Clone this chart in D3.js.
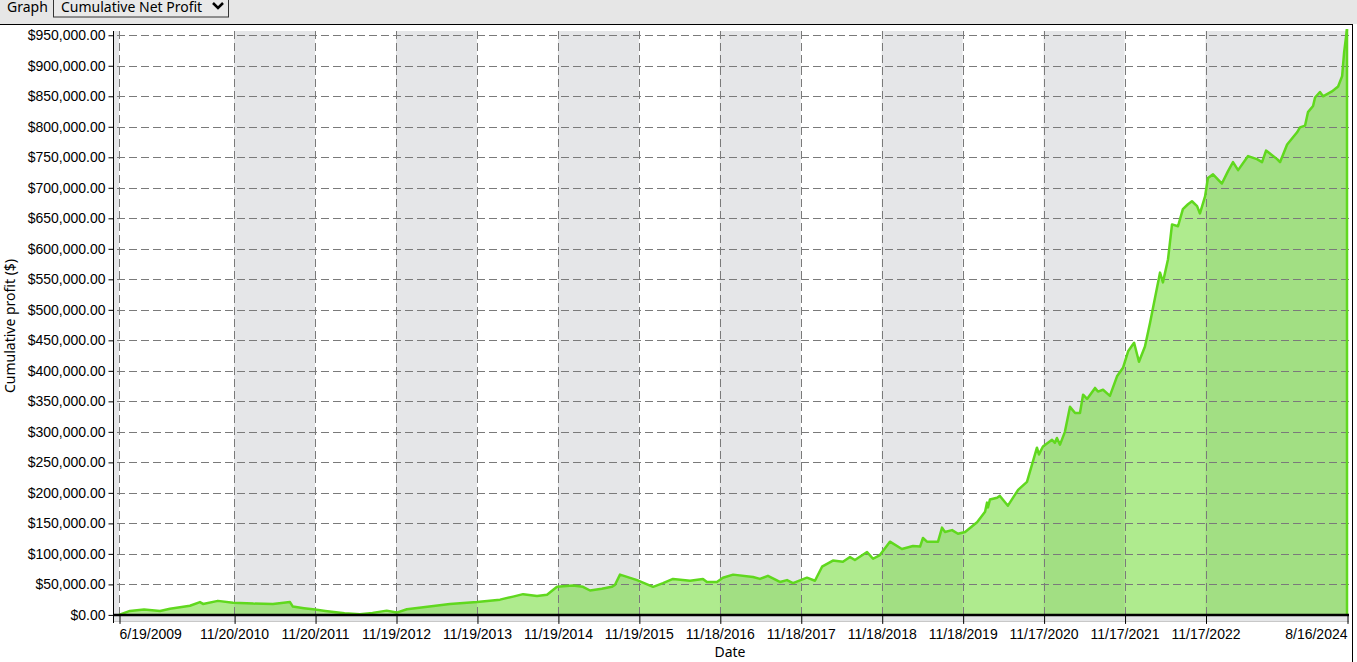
<!DOCTYPE html>
<html>
<head>
<meta charset="utf-8">
<script src="https://cdn.jsdelivr.net/npm/d3@7"></script>
<style>
  body { margin: 0; background: #fff; }
  svg { display: block; font-family: "Segoe UI", "Noto Sans", sans-serif; }
</style>
</head>
<body>
<div id="chart"></div>
<script>
// cumulative net profit
var dates = ["2009-06-19","2009-08-07","2009-10-10","2009-12-21","2010-02-04","2010-05-05","2010-06-19","2010-07-03","2010-09-08","2010-11-15",
  "2011-02-15","2011-05-14","2011-07-30","2011-08-12","2011-10-01","2011-11-20","2012-01-05","2012-04-01","2012-06-09","2012-08-05",
  "2012-10-08","2012-11-22","2013-01-07","2013-07-20","2013-11-19","2014-03-03","2014-05-01","2014-06-15","2014-08-17","2014-10-01",
  "2014-11-15","2015-01-26","2015-03-12","2015-04-13","2015-06-05","2015-07-20","2015-08-03","2015-08-26","2015-11-11","2016-01-22",
  "2016-03-07","2016-04-21","2016-07-07","2016-09-03","2016-09-21","2016-11-05","2016-12-02","2017-01-17","2017-04-17","2017-05-18",
  "2017-06-23","2017-08-16","2017-09-17","2017-10-14","2017-12-16","2018-01-21","2018-02-22","2018-04-12","2018-05-27","2018-06-28",
  "2018-07-20","2018-09-13","2018-10-10","2018-11-10","2018-12-25","2019-02-17","2019-04-08","2019-05-10","2019-05-23","2019-06-10",
  "2019-07-30","2019-08-17","2019-08-30","2019-10-01","2019-10-28","2019-11-29","2020-01-22","2020-02-27","2020-03-07","2020-03-11",
  "2020-03-20","2020-04-21","2020-05-04","2020-06-09","2020-07-25","2020-09-03","2020-10-18","2020-10-27","2020-11-14","2020-12-25",
  "2021-01-07","2021-01-16","2021-01-30","2021-02-21","2021-03-16","2021-04-08","2021-04-30","2021-05-14","2021-06-01","2021-07-07",
  "2021-07-20","2021-08-12","2021-09-12","2021-10-14","2021-11-10","2021-12-03","2021-12-30","2022-01-21","2022-02-17","2022-03-12",
  "2022-04-26","2022-05-09","2022-06-01","2022-06-19","2022-07-16","2022-08-07","2022-08-30","2022-09-17","2022-10-10","2022-10-23",
  "2022-11-15","2022-11-28","2022-12-21","2023-01-30","2023-02-26","2023-03-21","2023-04-13","2023-05-28","2023-07-07","2023-07-30",
  "2023-08-17","2023-10-06","2023-10-19","2023-11-20","2024-01-04","2024-01-17","2024-02-09","2024-02-22","2024-03-16","2024-03-25",
  "2024-04-16","2024-04-30","2024-06-09","2024-07-07","2024-07-25","2024-08-03","2024-08-16"];
var profit = [0,6500,8700,6500,10000,15000,21000,18000,23000,20000,
  18500,18000,21000,13600,11000,8700,6500,2800,1000,3300,
  7000,3800,9300,18000,21000,25000,30000,34000,31000,33000,
  46000,48000,46000,40000,43000,46000,49000,66000,57000,46000,
  52000,59000,56000,59000,54000,54000,61000,66000,62000,59000,
  64000,54000,57000,52000,61000,56000,79000,89000,87000,95000,
  90000,103000,92000,98000,120000,108000,113000,112000,126000,120000,
  120000,143000,136000,139000,133000,136000,152000,169000,184000,176000,
  189000,192000,195000,179000,205000,218000,274000,263000,276000,287000,
  282000,290000,279000,300000,341000,331000,331000,361000,354000,372000,
  366000,369000,359000,391000,405000,432000,446000,415000,440000,479000,
  561000,545000,583000,640000,637000,665000,673000,678000,670000,658000,
  686000,716000,722000,707000,727000,742000,729000,752000,747000,742000,
  761000,747000,742000,771000,791000,799000,802000,824000,834000,848000,
  857000,850000,858000,866000,883000,922000,960000];
var xTickDates = ["2009-06-19","2010-11-20","2011-11-20","2012-11-19","2013-11-19","2014-11-19","2015-11-19",
  "2016-11-18","2017-11-18","2018-11-18","2019-11-18","2020-11-17","2021-11-17","2022-11-17","2024-08-16"];
var yTicks = d3.range(0, 950001, 50000);
var graphOptions = ["Cumulative Net Profit"];

var W = 1357, H = 662;
var plot = {left: 113, right: 1349, top: 31, bottom: 621};
var parse = d3.timeParse("%Y-%m-%d");
var fmtDate = d3.timeFormat("%-m/%-d/%Y");
var fmtMoney = function(v) { return "$" + d3.format(",.2f")(v); };
var green = "#60d81e";

var data = dates.map(function(d, i) { return {date: parse(d), value: profit[i]}; });
var ticks = xTickDates.map(parse);

var x = d3.scaleTime().domain([ticks[0], ticks[ticks.length - 1]]).range([119, 1347]);
var y = d3.scaleLinear().domain([-10000, 957000]).range([plot.bottom, plot.top]);

var svg = d3.select("#chart").append("svg").attr("width", W).attr("height", H);

// header strip
svg.append("rect").attr("x", 0).attr("y", 0).attr("width", W).attr("height", 24).attr("fill", "#e6e6e6");
svg.append("line").attr("x1", 0).attr("x2", 1353).attr("y1", 24.5).attr("y2", 24.5).attr("stroke", "#000");
svg.append("line").attr("x1", 1352.5).attr("x2", 1352.5).attr("y1", 24).attr("y2", H).attr("stroke", "#000");
svg.append("text").attr("x", 7).attr("y", 12).attr("font-size", 14).attr("fill", "#000").text("Graph");
svg.append("rect").attr("x", 53.5).attr("y", -6).attr("width", 175).attr("height", 23).attr("fill", "#e9e9e9").attr("stroke", "#333");
svg.append("text").attr("x", 61).attr("y", 12).attr("font-size", 14).attr("fill", "#000").text(graphOptions[0]);
svg.append("path").attr("d", "M213,3 L218,8 L223,3").attr("fill", "none").attr("stroke", "#000").attr("stroke-width", 2.5);

// plot background + alternating bands
svg.append("rect").attr("x", plot.left).attr("y", plot.top).attr("width", plot.right - plot.left).attr("height", plot.bottom - plot.top).attr("fill", "#fff");
var edges = [plot.left].concat(ticks.map(function(t) { return x(t); })).concat([plot.right]);
var bands = d3.range(edges.length - 1).filter(function(i) { return i % 2 === 0; });
svg.append("g").selectAll("rect").data(bands).enter().append("rect")
  .attr("x", function(i) { return edges[i]; })
  .attr("width", function(i) { return edges[i + 1] - edges[i]; })
  .attr("y", plot.top).attr("height", plot.bottom - plot.top)
  .attr("fill", "#e5e6e8");
svg.append("rect").attr("x", plot.left).attr("y", y(0)).attr("width", plot.right - plot.left).attr("height", plot.bottom - y(0)).attr("fill", "#e5e6e8");
svg.append("line").attr("x1", plot.left).attr("x2", plot.right).attr("y1", plot.bottom + 0.5).attr("y2", plot.bottom + 0.5).attr("stroke", "#c8c8c8");

// area + line
var area = d3.area().x(function(d) { return x(d.date); }).y0(y(0)).y1(function(d) { return y(d.value); });
var line = d3.line().x(function(d) { return x(d.date); }).y(function(d) { return y(d.value); });
svg.append("path").datum(data).attr("d", area).attr("fill", green).attr("fill-opacity", 0.5);

// grid
var grid = svg.append("g").attr("stroke", "#7a7a7a").attr("stroke-dasharray", "8,4").attr("stroke-width", 1);
grid.selectAll(".h").data(yTicks.filter(function(v) { return v > 0; })).enter().append("line")
  .attr("x1", 117).attr("x2", plot.right)
  .attr("y1", function(v) { return Math.round(y(v)) + 0.5; }).attr("y2", function(v) { return Math.round(y(v)) + 0.5; });
grid.selectAll(".v").data(ticks).enter().append("line")
  .attr("x1", function(t) { return Math.round(x(t)) + 0.5; }).attr("x2", function(t) { return Math.round(x(t)) + 0.5; })
  .attr("y1", plot.top).attr("y2", y(0));

svg.append("path").datum(data).attr("d", line).attr("fill", "none").attr("stroke", green).attr("stroke-width", 2.5).attr("stroke-linejoin", "round");
var last = data[data.length - 1];
svg.append("line").attr("x1", x(last.date)).attr("x2", x(last.date)).attr("y1", y(last.value)).attr("y2", y(0))
  .attr("stroke", green).attr("stroke-width", 2.5);

// axes
var yAxis = svg.append("g").attr("transform", "translate(" + (plot.left + 0.5) + ",0)")
  .call(d3.axisLeft(y).tickValues(yTicks).tickFormat(fmtMoney).tickSize(5).tickPadding(3));
yAxis.select(".domain").remove();
yAxis.append("line").attr("x1", 0).attr("x2", 0).attr("y1", plot.top).attr("y2", plot.bottom + 2).attr("stroke", "#000");
yAxis.selectAll("text").attr("font-size", 14).attr("font-family", null).attr("fill", "#000");
yAxis.selectAll(".tick line").attr("stroke", "#000");

svg.append("line").attr("x1", plot.left).attr("x2", plot.right).attr("y1", y(0)).attr("y2", y(0)).attr("stroke", "#000").attr("stroke-width", 2.5);

var xAxis = svg.append("g").attr("transform", "translate(0," + y(0) + ")")
  .call(d3.axisBottom(x).tickValues(ticks).tickFormat(fmtDate).tickSize(9).tickPadding(5));
xAxis.select(".domain").remove();
xAxis.selectAll(".tick line").attr("stroke", "#000").attr("transform", "translate(0.5,0)");
xAxis.selectAll("text").attr("font-size", 14).attr("font-family", null).attr("fill", "#000")
  .attr("text-anchor", function(d, i) { return i === 0 ? "start" : (i === ticks.length - 1 ? "end" : "middle"); });

svg.append("text").attr("x", 730).attr("y", 657).attr("text-anchor", "middle").attr("font-size", 14).text("Date");
svg.append("text").attr("transform", "translate(15," + ((plot.top + plot.bottom) / 2) + ") rotate(-90)")
  .attr("text-anchor", "middle").attr("font-size", 14).text("Cumulative profit ($)");
</script>
</body>
</html>
